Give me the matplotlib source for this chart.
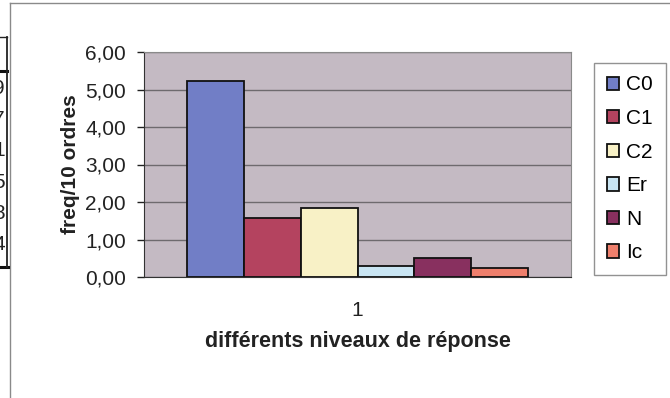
import matplotlib
matplotlib.use("Agg")
import matplotlib.pyplot as plt

plt.rcParams['font.family'] = ['Liberation Sans', 'DejaVu Sans']

series = ["C0", "C1", "C2", "Er", "N", "Ic"]
values = [5.24, 1.58, 1.84, 0.29, 0.52, 0.25]
colors = ["#717ec6", "#b4435f", "#f8f1c6", "#c9e5f3", "#88305f", "#ee7f6c"]
category = ["1"]
yticks = [0, 1, 2, 3, 4, 5, 6]
ytick_labels = ["0,00", "1,00", "2,00", "3,00", "4,00", "5,00", "6,00"]
table_digits = ["9", "7", "1", "5", "8", "4"]

W, H = 670, 398
fig = plt.figure(figsize=(W / 100, H / 100), dpi=100)
fig.patch.set_facecolor("white")

# pixel overlay for the frame and the cut-off table on the left
bg = fig.add_axes([0, 0, 1, 1], zorder=0)
bg.set_xlim(0, W)
bg.set_ylim(H, 0)
bg.axis("off")
bg.plot([9.5, 9.5], [2.5, H], color="#8a8a8a", lw=1.0)
bg.plot([9.5, W], [2.5, 2.5], color="#8a8a8a", lw=1.0)
bg.plot([0, 7], [37, 37], color="#222222", lw=1.0)
bg.plot([0, 7], [71, 71], color="#111111", lw=2.2)
bg.plot([0, 7.5], [267, 267], color="#111111", lw=2.2)
bg.plot([7, 7], [37, 267], color="#222222", lw=1.3)
for i, d in enumerate(table_digits):
    bg.text(5, 88 + i * 31.4, d, ha="right", va="center", fontsize=15, color="#222222")

ax = fig.add_axes([144 / W, 1 - 277 / H, 427 / W, 225 / H], zorder=1)
ax.set_facecolor("#c4bac3")
w = 0.8 / len(series)
for i, (s, v, c) in enumerate(zip(series, values, colors)):
    ax.bar(1 + (i - (len(series) - 1) / 2) * w, v, width=w, color=c,
           edgecolor="#111111", linewidth=1.3, label=s, zorder=3)

ax.set_xlim(0.5, 1.5)
ax.set_ylim(0, 6)
ax.set_yticks(yticks)
ax.set_yticklabels(ytick_labels)
ax.set_xticks([1])
ax.set_xticklabels(category)
ax.grid(axis="y", color="#6e6a6e", linewidth=1.0, zorder=1)
ax.tick_params(axis="y", length=5, width=1, pad=8, labelsize=15, colors="#222222")
ax.tick_params(axis="x", length=0, pad=17, labelsize=15, colors="#222222")
for sp in ["top", "right"]:
    ax.spines[sp].set_color("#8a8a8a")
for sp in ["left", "bottom"]:
    ax.spines[sp].set_color("#333333")

ax.set_ylabel("freq/10 ordres", fontsize=15, fontweight="bold", labelpad=4, color="#222222")
ax.set_xlabel("différents niveaux de réponse", fontsize=15.5, fontweight="bold",
              labelpad=8, color="#222222")

leg = fig.legend(loc="upper left", bbox_to_anchor=(594 / W, 1 - 63 / H), borderaxespad=0,
                 fontsize=15, handlelength=0.6, handleheight=0.6, handletextpad=0.35,
                 labelspacing=0.7, borderpad=0.6, fancybox=False, frameon=True)
leg.get_frame().set_edgecolor("#777777")
leg.get_frame().set_linewidth(1.0)

fig.savefig("out.png", dpi=100)
